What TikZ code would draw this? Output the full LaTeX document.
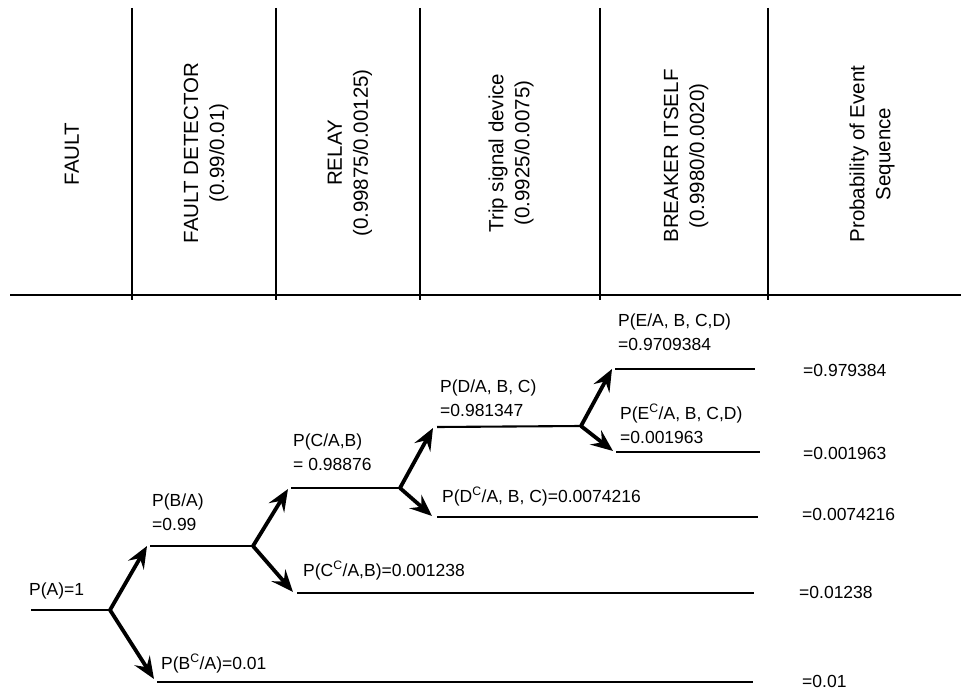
\documentclass[tikz,border=0pt]{standalone}
\usepackage{fontspec}
\setmainfont{Liberation Sans}
\usetikzlibrary{arrows.meta}
\begin{document}
\begin{tikzpicture}[x=1pt,y=-1pt,
  hdr/.style={rotate=90,align=center,font=\fontsize{20.5}{26}\selectfont,inner sep=0pt},
  lbl/.style={anchor=base west,inner sep=0pt,font=\fontsize{17.5}{24}\selectfont},
  rule/.style={line width=2.5pt},
  branch/.style={line width=2.1pt},
  arr/.style={line width=3.8pt,-{Stealth[length=22pt,width=18pt,inset=8pt]}}]
\useasboundingbox (0,0) rectangle (961,690);

% header grid
\draw[rule] (10,295) -- (961,295);
\foreach \x in {132,276,420,600,768} \draw[rule] (\x,8) -- (\x,300);

% header texts
\node[hdr] (hF)  at (72,154)  {FAULT};
\node[hdr] (hFD) at (206,153) {FAULT DETECTOR\\(0.99/0.01)};
\node[hdr] (hR)  at (350,153) {RELAY\\(0.99875/0.00125)};
\node[hdr] (hT)  at (511,153) {Trip signal device\\(0.9925/0.0075)};
\node[hdr] (hB)  at (686,156) {BREAKER ITSELF\\(0.9980/0.0020)};
\node[hdr] (hP)  at (872,154) {Probability of Event\\Sequence};

% tree coordinates
\coordinate (s0) at (31,610);
\coordinate (b0) at (110,610);
\coordinate (u1) at (147,546);
\coordinate (l1) at (150,546);
\coordinate (b1) at (253,546);
\coordinate (d1) at (154,679);
\coordinate (m1) at (157,682);
\coordinate (e1) at (753,682);

\coordinate (u2) at (288,489);
\coordinate (l2) at (291,488);
\coordinate (b2) at (400,488);
\coordinate (d2) at (293,592);
\coordinate (m2) at (297,593);
\coordinate (e2) at (754,593);

\coordinate (u3) at (433,428);
\coordinate (l3) at (437,427);
\coordinate (b3) at (581,426);
\coordinate (d3) at (432,516);
\coordinate (m3) at (437,517);
\coordinate (e3) at (758,517);

\coordinate (u4) at (612,369);
\coordinate (l4) at (615,369);
\coordinate (e4) at (755,369);
\coordinate (d4) at (613,451);
\coordinate (m4) at (616,452);
\coordinate (e5) at (760,452);

% horizontal branches
\draw[branch] (s0) -- (b0);
\draw[branch] (l1) -- (b1);
\draw[branch] (m1) -- (e1);
\draw[branch] (l2) -- (b2);
\draw[branch] (m2) -- (e2);
\draw[branch] (l3) -- (b3);
\draw[branch] (m3) -- (e3);
\draw[branch] (l4) -- (e4);
\draw[branch] (m4) -- (e5);

% arrows
\draw[arr] (b0) -- (u1);
\draw[arr] (b0) -- (d1);
\draw[arr] (b1) -- (u2);
\draw[arr] (b1) -- (d2);
\draw[arr] (b2) -- (u3);
\draw[arr] (b2) -- (d3);
\draw[arr] (b3) -- (u4);
\draw[arr] (b3) -- (d4);

% labels
\node[lbl] (pA)  at (29,595)  {P(A)=1};
\node[lbl] (pB)  at (152,506) {\begin{tabular}[t]{@{}l@{}}P(B/A)\\=0.99\end{tabular}};
\node[lbl] (pBc) at (161,669) {P(B\textsuperscript{C}/A)=0.01};
\node[lbl] (pC)  at (293,446) {\begin{tabular}[t]{@{}l@{}}P(C/A,B)\\= 0.98876\end{tabular}};
\node[lbl] (pCc) at (303,576) {P(C\textsuperscript{C}/A,B)=0.001238};
\node[lbl] (pD)  at (440,392) {\begin{tabular}[t]{@{}l@{}}P(D/A, B, C)\\=0.981347\end{tabular}};
\node[lbl] (pDc) at (442,502) {P(D\textsuperscript{C}/A, B, C)=0.0074216};
\node[lbl] (pE)  at (618,326) {\begin{tabular}[t]{@{}l@{}}P(E/A, B, C,D)\\=0.9709384\end{tabular}};
\node[lbl] (pEc) at (620,419) {\begin{tabular}[t]{@{}l@{}}P(E\textsuperscript{C}/A, B, C,D)\\=0.001963\end{tabular}};

% results
\node[lbl] (r1) at (803,376) {=0.979384};
\node[lbl] (r2) at (803,459) {=0.001963};
\node[lbl] (r3) at (802,520) {=0.0074216};
\node[lbl] (r4) at (799,598) {=0.01238};
\node[lbl] (r5) at (802,687) {=0.01};
\end{tikzpicture}
\end{document}
